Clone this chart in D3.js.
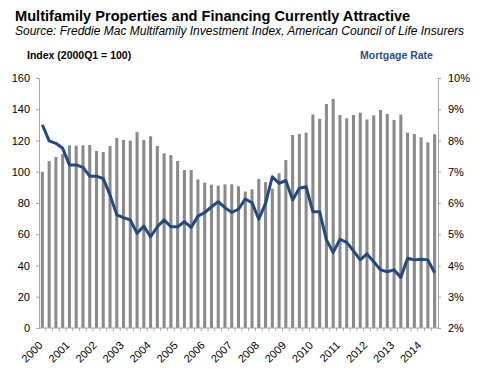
<!DOCTYPE html>
<html>
<head>
<meta charset="utf-8">
<script src="https://cdn.jsdelivr.net/npm/d3@7"></script>
<style>
  body { margin: 0; background: #fff; }
  svg { font-family: "Liberation Sans", Arial, sans-serif; }
  .axis path, .axis line { stroke: #a6a6a6; }
  .axis text { font-size: 11px; fill: #000; }
</style>
</head>
<body>
<script>
// quarterly index, 2000Q1 = 100
var years = d3.range(2000, 2015);
var quarters = [];
years.forEach(y => [1, 2, 3, 4].forEach(q => quarters.push(y + "Q" + q)));
quarters = quarters.slice(0, 59); // last reading is 2014Q3

var indexValues = [
  100, 106.9, 109.4, 111.4, 116.9, 116.7, 116.9, 117.1, 113.3, 112.6,
  116.5, 121.6, 120.3, 119.9, 125.4, 120.3, 122.7, 116.5, 111.8, 110.7,
  106.9, 101.1, 101.1, 95.1, 93, 91.7, 91.1, 91.9, 92, 90.7,
  87.3, 88.7, 95.4, 93.4, 89.2, 99, 107.5, 123.5, 124.2, 125,
  136.7, 133.8, 143.4, 146.6, 136.3, 134.2, 136.3, 137.8, 133.5, 136.1,
  139.5, 137, 133.1, 136.5, 125, 124.2, 122, 118.8, 124
];

// mortgage rate, percent
var rateValues = [
  8.50, 7.99, 7.91, 7.75, 7.22, 7.22, 7.14, 6.86, 6.86, 6.78,
  6.26, 5.62, 5.53, 5.46, 5.03, 5.26, 4.92, 5.24, 5.46, 5.24,
  5.24, 5.40, 5.22, 5.58, 5.69, 5.88, 6.04, 5.85, 5.70, 5.80,
  6.13, 6.01, 5.48, 5.99, 6.84, 6.63, 6.72, 6.10, 6.47, 6.52,
  5.72, 5.72, 4.82, 4.42, 4.84, 4.74, 4.47, 4.18, 4.37, 4.12,
  3.86, 3.80, 3.86, 3.62, 4.23, 4.18, 4.20, 4.18, 3.77
];

var leftTicks = d3.range(0, 161, 20);
var rightTicks = d3.range(2, 11, 1);

var width = 485,
    height = 390;
var plotL = 39, plotR = 438, plotT = 78, plotB = 328;

var svg = d3.select("body").append("svg")
  .attr("width", width)
  .attr("height", height);

var x = d3.scaleBand()
  .domain(quarters)
  .range([plotL, plotR])
  .paddingInner(0.55)
  .paddingOuter(0.275);

var yIdx = d3.scaleLinear().domain([0, 160]).range([plotB, plotT]);
var yRate = d3.scaleLinear().domain([2, 10]).range([plotB, plotT]);

// titles
svg.append("text")
  .attr("x", 15).attr("y", 21)
  .style("font-size", "14.6px").style("font-weight", "bold")
  .text("Multifamily Properties and Financing Currently Attractive");

svg.append("text")
  .attr("x", 15).attr("y", 35)
  .style("font-size", "12px").style("font-style", "italic")
  .text("Source: Freddie Mac Multifamily Investment Index, American Council of Life Insurers");

svg.append("text")
  .attr("x", 27).attr("y", 59)
  .style("font-size", "10.5px").style("font-weight", "bold")
  .text("Index (2000Q1 = 100)");

svg.append("text")
  .attr("x", 360).attr("y", 59)
  .style("font-size", "10.5px").style("font-weight", "bold")
  .style("fill", "#2e4f86")
  .text("Mortgage Rate");

// bars
svg.append("g").selectAll("rect")
  .data(indexValues).enter()
  .append("rect")
  .attr("x", (d, i) => x(quarters[i]))
  .attr("width", x.bandwidth())
  .attr("y", d => yIdx(d))
  .attr("height", d => yIdx(0) - yIdx(d))
  .attr("fill", "#8a8a8a");

// axes
svg.append("g")
  .attr("class", "axis")
  .attr("transform", "translate(" + plotL + ",0)")
  .call(d3.axisLeft(yIdx).tickValues(leftTicks).tickSize(3).tickSizeOuter(0).tickPadding(6));

svg.append("g")
  .attr("class", "axis")
  .attr("transform", "translate(" + plotR + ",0)")
  .call(d3.axisRight(yRate).tickValues(rightTicks).tickSize(3).tickSizeOuter(0).tickPadding(7)
    .tickFormat(d => d + "%"));

var xAxis = svg.append("g").attr("class", "axis");
xAxis.append("line")
  .attr("x1", plotL).attr("x2", plotR)
  .attr("y1", plotB).attr("y2", plotB);
xAxis.selectAll(".qtick")
  .data(quarters.slice(1)).enter()
  .append("line")
  .attr("class", "qtick")
  .attr("x1", d => x(d) - x.step() * x.paddingInner() / 2)
  .attr("x2", d => x(d) - x.step() * x.paddingInner() / 2)
  .attr("y1", plotB).attr("y2", plotB + 3);

xAxis.selectAll(".ylab")
  .data(years).enter()
  .append("text")
  .attr("class", "ylab")
  .attr("text-anchor", "end")
  .attr("transform", d => "translate(" + (x(d + "Q1") + x.bandwidth() / 2 + 1) + "," + (plotB + 18) + ") rotate(-45)")
  .text(d => d);

// mortgage rate line
var line = d3.line()
  .x((d, i) => x(quarters[i]) + x.bandwidth() / 2)
  .y(d => yRate(d));

svg.append("path")
  .datum(rateValues)
  .attr("fill", "none")
  .attr("stroke", "#224a7f")
  .attr("stroke-width", 3)
  .attr("stroke-linejoin", "round")
  .attr("d", line);
</script>
</body>
</html>
